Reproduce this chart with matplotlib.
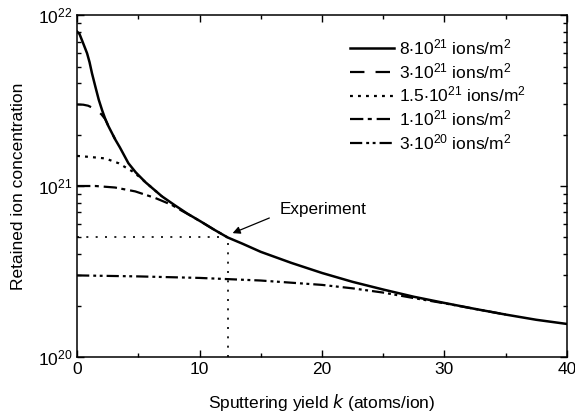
import numpy as np
import matplotlib
matplotlib.use('Agg')
import matplotlib.pyplot as plt

plt.rcParams['font.family'] = ['Liberation Sans', 'DejaVu Sans']
plt.rcParams['mathtext.default'] = 'regular'

# curves: sputtering yield k vs retained concentration
k_8e21 = [0, 0.2, 0.41, 0.62, 0.82, 1.02, 1.22, 1.5, 1.77, 2.05, 2.3, 2.56, 2.85, 3.12,
          3.5, 4.19, 4.8, 5.6, 6.93, 8.0, 9.0, 10.1, 11.2, 12.3, 13.5,
          15, 17.5, 20, 22.5, 25, 27.5, 30, 32.5, 35, 37.5, 40]
c_8e21 = [8.0e21, 7.75e21, 7.1e21, 6.5e21, 5.97e21, 5.3e21, 4.56e21, 3.8e21, 3.2e21,
          2.77e21, 2.47e21, 2.24e21, 2.04e21, 1.87e21, 1.68e21, 1.36e21, 1.2e21,
          1.05e21, 8.7e20, 7.7e20, 6.9e20, 6.2e20, 5.55e20, 5.0e20, 4.6e20,
          4.12e20, 3.55e20, 3.1e20, 2.75e20, 2.48e20, 2.25e20, 2.07e20, 1.91e20,
          1.77e20, 1.65e20, 1.56e20]

k_3e21 = [0, 0.5, 0.9, 1.3, 1.7, 2.0, 2.3, 2.56, 2.85, 3.12]
c_3e21 = [3.0e21, 2.99e21, 2.95e21, 2.86e21, 2.74e21, 2.62e21, 2.46e21, 2.24e21,
          2.04e21, 1.87e21]

k_15e20 = [0, 1, 2.3, 3.38, 4.5, 5.1, 5.6, 6.93]
c_15e20 = [1.5e21, 1.48e21, 1.45e21, 1.36e21, 1.22e21, 1.13e21, 1.05e21, 8.7e20]

k_1e21 = [0, 1.5, 3.1, 4.75, 6.4, 7.74, 8.5, 9.0, 10.1, 11.2, 12.3]
c_1e21 = [1.0e21, 1.0e21, 9.8e20, 9.3e20, 8.5e20, 7.75e20, 7.2e20, 6.88e20, 6.2e20,
          5.55e20, 5.0e20]

k_3e20 = [0, 5, 10, 15, 20, 22.5, 25, 27.5, 30, 32.5, 35]
c_3e20 = [3.0e20, 2.96e20, 2.9e20, 2.8e20, 2.64e20, 2.52e20, 2.38e20, 2.21e20, 2.06e20,
          1.91e20, 1.77e20]

labels = ['8$\\cdot$10$^{21}$ ions/m$^2$', '3$\\cdot$10$^{21}$ ions/m$^2$',
          '1.5$\\cdot$10$^{21}$ ions/m$^2$', '1$\\cdot$10$^{21}$ ions/m$^2$',
          '3$\\cdot$10$^{20}$ ions/m$^2$']

# experiment point
k_exp = 12.3
c_exp = 5.0e20

fig = plt.figure(figsize=(5.75, 4.18), dpi=100)
ax = fig.add_axes([0.134, 0.146, 0.852, 0.818])

lw = 1.6
ax.plot(k_3e20, c_3e20, color='black', lw=lw, dashes=(5.5, 1.8, 1.3, 1.6, 1.3, 1.8),
        label=labels[4])
ax.plot(k_1e21, c_1e21, color='black', lw=lw, dashes=(6, 2, 1.8, 2.2), label=labels[3])
ax.plot(k_15e20, c_15e20, color='black', lw=lw, dashes=(1.3, 2.3), label=labels[2])
ax.plot(k_3e21, c_3e21, color='black', lw=lw, dashes=(6.5, 5), label=labels[1])
ax.plot(k_8e21, c_8e21, color='black', lw=lw + 0.2, label=labels[0])

ax.plot([0, k_exp], [c_exp, c_exp], color='black', lw=1.2, dashes=(1.2, 4.4))
ax.plot([k_exp, k_exp], [1e20, c_exp], color='black', lw=1.2, dashes=(1.2, 4.4))
ax.annotate('', xy=(12.7, 5.3e20), xytext=(15.7, 6.5e20),
            arrowprops=dict(arrowstyle='-|>', color='black', lw=0.9,
                            shrinkA=0, shrinkB=0, mutation_scale=11))
ax.text(16.5, 7.25e20, 'Experiment', fontsize=12.3, va='center', ha='left')

ax.set_yscale('log')
ax.set_xlim(0, 40)
ax.set_ylim(1e20, 1e22)
ax.set_xticks([0, 10, 20, 30, 40])
ax.set_xticks([5, 15, 25, 35], minor=True)
ax.set_yticks([1e20, 1e21, 1e22])
ax.set_yticklabels(['10$^{20}$', '10$^{21}$', '10$^{22}$'])
ax.tick_params(which='both', direction='in', top=True, right=True, labelsize=12.5)
ax.tick_params(which='major', length=5, width=1)
ax.tick_params(which='minor', length=3, width=1)
for s in ax.spines.values():
    s.set_linewidth(1.1)

ax.set_xlabel('Sputtering yield $\\it{k}$ (atoms/ion)', fontsize=12.5, labelpad=11)
ax.set_ylabel('Retained ion concentration', fontsize=12.5, labelpad=8)

h, l = ax.get_legend_handles_labels()
order = [4, 3, 2, 1, 0]
ax.legend([h[i] for i in order], [l[i] for i in order], loc='upper left',
          frameon=False, fontsize=12.5, handlelength=2.5, handletextpad=0.3,
          labelspacing=0.22, bbox_to_anchor=(0.526, 0.98))

fig.savefig('out.png', dpi=100)
